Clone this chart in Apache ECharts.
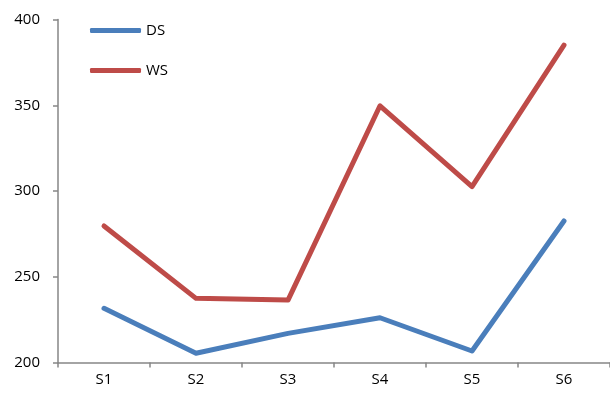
<!DOCTYPE html>
<html>
<head>
<meta charset="utf-8">
<script src="https://cdn.jsdelivr.net/npm/echarts@6/dist/echarts.min.js"></script>
<style>
  html, body { margin: 0; padding: 0; background: #fff; }
  #chart { width: 610px; height: 398px; }
</style>
</head>
<body>
<div id="chart"></div>
<script>
// Sample labels along the x axis
const categories = ['S1', 'S2', 'S3', 'S4', 'S5', 'S6'];
// Series values
const dsValues = [231.6, 205.4, 217, 226.1, 206.7, 282.5];
const wsValues = [279.6, 237.4, 236.4, 349.7, 302.5, 385.1];
// Value axis range
const yMin = 200, yMax = 400, yStep = 50;

const FONT = 'Open Sans';
const AXIS_COLOR = '#868686';
const BLUE = '#4A7EBB';
const RED = '#BE4B48';

const chart = echarts.init(document.getElementById('chart'), null, { renderer: 'canvas' });

const legendText = { fontFamily: FONT, fontSize: 15, color: '#000' };
const legendBase = {
  icon: 'roundRect', itemWidth: 51, itemHeight: 5, itemGap: 0,
  padding: 0, textStyle: legendText
};

chart.setOption({
  animation: false,
  grid: { left: 58, top: 19.5, width: 554, bottom: 35.5, containLabel: false },
  legend: [
    Object.assign({ data: ['DS'], left: 90, top: 23 }, legendBase),
    Object.assign({ data: ['WS'], left: 90, top: 63 }, legendBase)
  ],
  xAxis: {
    type: 'category',
    data: categories,
    boundaryGap: true,
    axisLine: { lineStyle: { color: AXIS_COLOR, width: 1.5 } },
    axisTick: { show: true, length: 5, lineStyle: { color: AXIS_COLOR, width: 1.5 } },
    axisLabel: { margin: 10, fontFamily: FONT, fontSize: 15, color: '#000' },
    splitLine: { show: false }
  },
  yAxis: {
    type: 'value',
    min: yMin, max: yMax, interval: yStep,
    axisLine: { show: true, lineStyle: { color: AXIS_COLOR, width: 1.5 } },
    axisTick: { show: true, length: 5, lineStyle: { color: AXIS_COLOR, width: 1.5 } },
    axisLabel: { margin: 18, fontFamily: FONT, fontSize: 15, color: '#000' },
    splitLine: { show: false }
  },
  series: [
    {
      name: 'DS', type: 'line', data: dsValues,
      symbol: 'none', color: BLUE,
      lineStyle: { width: 5, color: BLUE, cap: 'round', join: 'round' }
    },
    {
      name: 'WS', type: 'line', data: wsValues,
      symbol: 'none', color: RED,
      lineStyle: { width: 5, color: RED, cap: 'round', join: 'round' }
    }
  ]
});
</script>
</body>
</html>
